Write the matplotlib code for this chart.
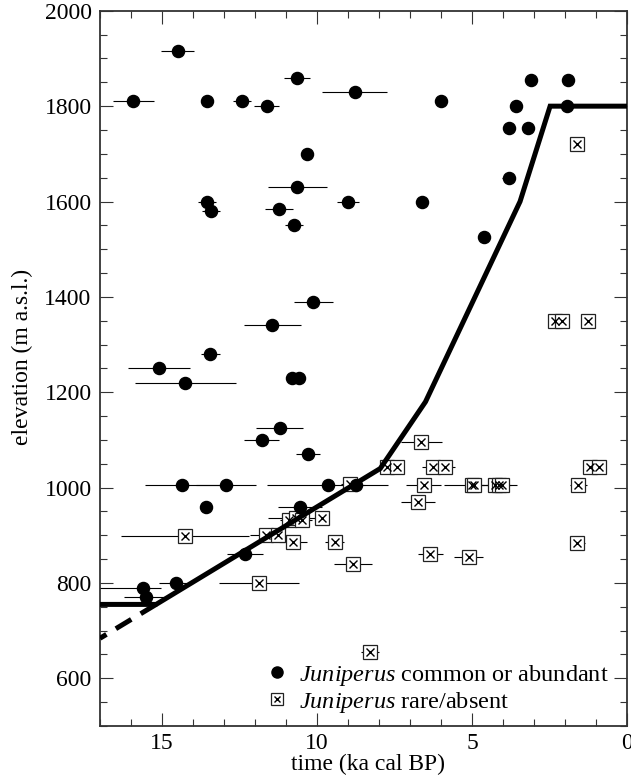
import matplotlib
matplotlib.use("Agg")
import matplotlib.pyplot as plt
from matplotlib.lines import Line2D
from matplotlib.ticker import MultipleLocator
import numpy as np

plt.rcParams['font.family'] = ['Liberation Serif', 'DejaVu Serif']
plt.rcParams['mathtext.fontset'] = 'custom'
plt.rcParams['mathtext.rm'] = 'Liberation Serif'
plt.rcParams['mathtext.it'] = 'Liberation Serif:italic'

# ---- Juniperus common or abundant (filled circles) ----
common_age = [15.92, 14.49, 13.55, 12.42, 11.62, 10.63, 8.79, 10.31, 10.63, 13.55,
              13.42, 11.22, 10.74, 9.00, 6.00, 6.61, 3.10, 1.91, 3.58, 1.94,
              3.82, 3.20, 3.82, 4.62, 10.12, 11.44, 13.44, 15.10, 14.25, 10.82,
              10.58, 11.20, 11.79, 10.28, 14.35, 12.94, 9.65, 8.75, 13.58, 10.55,
              12.32, 14.55, 15.62, 15.53]
common_elev = [1810, 1915, 1810, 1810, 1800, 1860, 1830, 1700, 1630, 1600,
               1580, 1585, 1550, 1600, 1810, 1600, 1855, 1855, 1800, 1800,
               1755, 1755, 1650, 1525, 1390, 1340, 1280, 1250, 1220, 1230,
               1230, 1124, 1100, 1070, 1005, 1005, 1005, 1005, 960, 960,
               860, 800, 790, 770]
common_err_older = [0.65, 0.53, 0.15, 0.30, 0.40, 0.42, 1.06, 0.10, 0.95, 0.30,
                    0.28, 0.45, 0.30, 0.37, 0.16, 0.15, 0.12, 0.10, 0.10, 0.10,
                    0.15, 0.10, 0.22, 0.15, 0.63, 0.92, 0.30, 0.99, 1.63, 0.10,
                    0.10, 0.76, 0.57, 0.39, 1.20, 0.97, 1.95, 0.30, 0.10, 0.70,
                    0.59, 0.54, 1.40, 0.70]
common_err_younger = [0.65, 0.53, 0.15, 0.30, 0.40, 0.42, 1.06, 0.10, 0.95, 0.30,
                      0.28, 0.45, 0.30, 0.37, 0.16, 0.15, 0.12, 0.10, 0.10, 0.10,
                      0.15, 0.10, 0.22, 0.15, 0.63, 0.92, 0.30, 0.99, 1.63, 0.10,
                      0.10, 0.76, 0.57, 0.39, 1.20, 0.97, 1.95, 0.30, 0.10, 0.70,
                      0.59, 0.54, 0.60, 0.70]

# ---- Juniperus rare/absent (boxed crosses) ----
rare_age = [1.60, 2.32, 2.10, 1.25, 1.19, 0.89, 1.57, 1.60, 7.73, 7.41,
            6.63, 6.27, 5.86, 6.56, 6.75, 5.00, 4.92, 4.25, 4.14, 4.03,
            6.34, 5.11, 8.29, 8.83, 9.43, 10.77, 9.85, 10.90, 10.69, 10.47,
            11.65, 11.27, 14.25, 11.87, 8.92]
rare_elev = [1720, 1350, 1350, 1350, 1044, 1044, 1005, 884, 1044, 1044,
             1096, 1044, 1044, 1005, 970, 1005, 1005, 1005, 1005, 1005,
             860, 855, 656, 840, 885, 885, 936, 932, 936, 932,
             900, 900, 899, 800, 1008]
rare_err = [0.10, 0.10, 0.10, 0.10, 0.15, 0.15, 0.28, 0.25, 0.20, 0.20,
            0.67, 0.35, 0.30, 0.56, 0.55, 0.90, 0.30, 0.30, 0.60, 0.30,
            0.40, 0.46, 0.30, 0.62, 0.30, 0.45, 0.25, 0.30, 0.90, 0.30,
            0.50, 0.30, 2.07, 1.30, 0.30]

# ---- lower limit line ----
limit_age = [0.0, 2.48, 3.45, 6.50, 7.96, 15.19, 17.0]
limit_elev = [1800, 1800, 1600, 1180, 1040, 755, 755]
extrap_age = [15.19, 17.0]
extrap_elev = [755, 684]

xticks = [15, 10, 5, 0]
yticks = [600, 800, 1000, 1200, 1400, 1600, 1800, 2000]

W, H = 631, 776
fig = plt.figure(figsize=(W / 100, H / 100), dpi=100)
ax = fig.add_axes([100 / W, 50 / H, 527 / W, 715.2 / H])

# error bars
ax.errorbar(rare_age, rare_elev, xerr=rare_err, fmt='none', ecolor='k',
            elinewidth=0.8, capsize=0, zorder=1)
ax.errorbar(common_age, common_elev,
            xerr=[common_err_younger, common_err_older], fmt='none',
            ecolor='k', elinewidth=0.8, capsize=0, zorder=1)

# rare markers
ax.plot(rare_age, rare_elev, ls='none', marker='s', ms=10, mfc='white',
        mec='#222222', mew=0.9, zorder=2)
ax.plot(rare_age, rare_elev, ls='none', marker='x', ms=5.5, mec='k',
        mew=1.0, zorder=2.1)

# limit lines
ax.plot(limit_age, limit_elev, color='k', lw=3.6, solid_joinstyle='miter',
        zorder=3)
ax.plot(extrap_age, extrap_elev, color='k', lw=3.6, dashes=(3.6, 2.2),
        dash_capstyle='butt', zorder=3)

# common markers
ax.plot(common_age, common_elev, ls='none', marker='o', ms=8.7, color='k',
        zorder=4)

ax.set_xlim(17, 0)
ax.set_ylim(500, 2000)
ax.set_xticks(xticks)
ax.set_yticks(yticks)
ax.xaxis.set_minor_locator(MultipleLocator(1))
ax.yaxis.set_minor_locator(MultipleLocator(50))
ax.tick_params(which='both', direction='in', top=True, right=True,
               labelsize=17, width=0.8, color='#333333')
ax.tick_params(which='major', length=9.5)
ax.tick_params(which='minor', length=5)
ax.tick_params(axis='x', pad=5)
ax.tick_params(axis='y', pad=6)
for s in ax.spines.values():
    s.set_linewidth(1.3)
    s.set_color('#333333')

fig.text(22.5 / W, 1 - 357 / H, 'elevation (m a.s.l.)', rotation=90,
         ha='center', va='center', fontsize=17)
fig.text(368 / W, 1 - 764 / H, 'time (ka cal BP)', ha='center',
         va='center', fontsize=17)

h1 = Line2D([], [], ls='none', marker='o', ms=8, color='k')
h2a = Line2D([], [], ls='none', marker='s', ms=8, mfc='white', mec='#222222',
             mew=0.9)
h2b = Line2D([], [], ls='none', marker='x', ms=4.5, mec='k', mew=1.0)
ax.legend([h1, (h2a, h2b)],
          [r'$\mathit{Juniperus}$ common or abundant',
           r'$\mathit{Juniperus}$ rare/absent'],
          loc='upper left', bbox_to_anchor=((264.7 - 100) / 527, (726 - 663) / 715.2),
          frameon=False, borderpad=0, borderaxespad=0, handletextpad=0.4,
          labelspacing=0.08, handlelength=1.0, fontsize=17.5)

fig.savefig('out.png', dpi=100)
